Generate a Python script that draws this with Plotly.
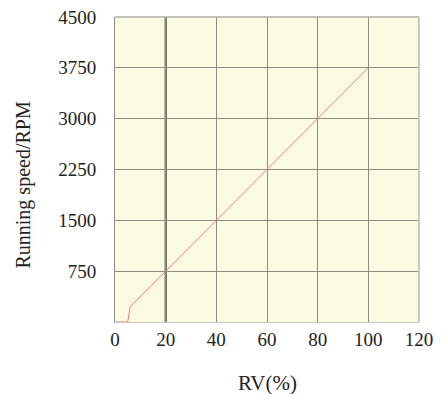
import plotly.graph_objects as go

# Speed curve: dead band near zero, then linear up to rated speed
rv_pct = [0, 5, 6, 100]
speed_rpm = [0, 0, 225, 3750]

x_ticks = [0, 20, 40, 60, 80, 100, 120]
y_ticks = [750, 1500, 2250, 3000, 3750, 4500]
y_tick_labels = ["750", "1500", "2250", "3000", "3750", "4500"]

font_family = "Liberation Serif, Times New Roman, serif"
grid_color = "#8c8c84"

fig = go.Figure()

# emphasised reference line at 20 %
fig.add_shape(type="line", xref="x", yref="paper", x0=20, x1=20, y0=0, y1=1,
              line=dict(color="#333333", width=2), layer="between")

fig.add_trace(go.Scatter(
    x=rv_pct, y=speed_rpm, mode="lines", cliponaxis=False,
    line=dict(color="#f27c7c", width=1),
    showlegend=False, hoverinfo="skip"))

fig.update_layout(
    width=444, height=394,
    margin=dict(l=115, r=25, t=17, b=72),
    paper_bgcolor="white",
    plot_bgcolor="#fbfbe2",
    font=dict(family=font_family, size=19, color="#222222"),
)

fig.update_xaxes(
    range=[0, 120], tickvals=x_ticks, ticks="", ticklabelstandoff=0,
    showgrid=True, gridcolor=grid_color, gridwidth=1, automargin=False,
    zeroline=False, showline=True, linecolor="#c8c8c0", linewidth=1, mirror=False,
)
fig.update_yaxes(
    range=[0, 4500], tickvals=[0] + y_ticks, ticktext=[""] + y_tick_labels,
    ticks="", ticklabelstandoff=14, automargin=False,
    showgrid=True, gridcolor=grid_color, gridwidth=1,
    zeroline=False, showline=True, linecolor="#8c8c84", linewidth=1,
)

# axis titles
fig.add_annotation(text="RV(%)", xref="paper", yref="paper", x=0.5, y=-0.2,
                   xanchor="center", yanchor="middle", showarrow=False,
                   font=dict(size=21))
fig.add_annotation(text="Running speed/RPM", xref="paper", yref="paper",
                   x=-0.3, y=0.45, xanchor="center", yanchor="middle",
                   textangle=-90, showarrow=False, font=dict(size=20))

# frame on the top and right edges
fig.add_shape(type="line", xref="paper", yref="paper", x0=0, x1=1, y0=1, y1=1,
              line=dict(color="#b0b0a8", width=1.5))
fig.add_shape(type="line", xref="paper", yref="paper", x0=1, x1=1, y0=0, y1=1,
              line=dict(color="#c8c8c0", width=2))

fig.write_html("out.html")
